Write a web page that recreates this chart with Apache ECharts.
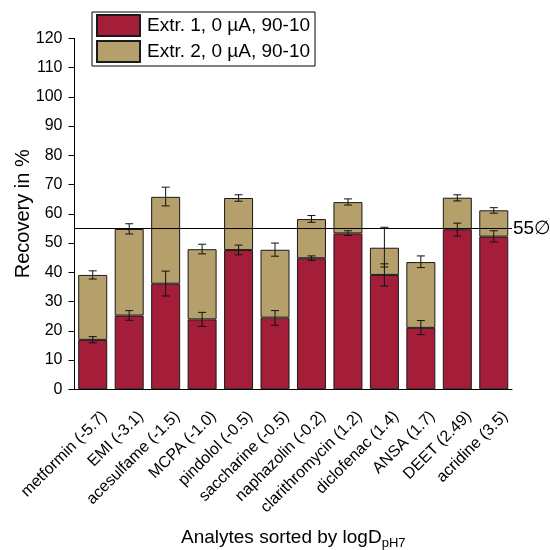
<!DOCTYPE html>
<html>
<head>
<meta charset="utf-8">
<script src="https://cdn.jsdelivr.net/npm/echarts@6.0.0/dist/echarts.min.js"></script>
<style>html,body{margin:0;padding:0;background:#fff;}#c{width:550px;height:550px;}</style>
</head>
<body>
<div id="c"></div>
<script>
var categories = ['metformin (-5.7)', 'EMI (-3.1)', 'acesulfame (-1.5)', 'MCPA (-1.0)', 'pindolol (-0.5)', 'saccharine (-0.5)', 'naphazolin (-0.2)', 'clarithromycin (1.2)', 'diclofenac (1.4)', 'ANSA (1.7)', 'DEET (2.49)', 'acridine (3.5)'];
var ext1 = [16.9, 25.2, 36.1, 23.9, 47.6, 24.5, 44.8, 53.3, 39.1, 21.0, 54.7, 52.2];
var ext2 = [22.2, 29.6, 29.7, 24.0, 17.8, 23.2, 13.4, 10.7, 9.3, 22.5, 10.8, 9.0];
var ext1ErrLow = [15.9, 23.6, 31.9, 21.5, 46.0, 21.9, 44.1, 52.6, 35.3, 18.7, 52.4, 50.4];
var ext1ErrHigh = [18.0, 26.9, 40.4, 26.3, 49.3, 26.9, 45.6, 54.2, 55.4, 23.5, 56.8, 54.2];
var ext2ErrLow = [37.7, 53.1, 62.7, 46.3, 64.3, 45.5, 57.1, 63.0, 41.8, 41.6, 64.4, 60.2];
var ext2ErrHigh = [40.5, 56.6, 69.1, 49.6, 66.5, 50.0, 59.4, 65.1, 42.9, 45.6, 66.5, 62.1];
var yTicks = [0, 10, 20, 30, 40, 50, 60, 70, 80, 90, 100, 110, 120];
var refLine = 55;
var seriesNames = ['Extr. 1, 0 \u00b5A, 90-10', 'Extr. 2, 0 \u00b5A, 90-10'];

var FONT = '"Liberation Sans", Arial, sans-serif';

function errData(lo, hi) {
  return lo.map(function (v, i) { return [i, v, hi[i]]; });
}
function renderErr(params, api) {
  var x = api.value(0);
  var lo = api.coord([x, api.value(1)]);
  var hi = api.coord([x, api.value(2)]);
  var w = 4;
  var st = { stroke: '#111', lineWidth: 1 };
  return {
    type: 'group',
    children: [
      { type: 'line', shape: { x1: lo[0], y1: lo[1], x2: hi[0], y2: hi[1] }, style: st },
      { type: 'line', shape: { x1: lo[0] - w, y1: lo[1], x2: lo[0] + w, y2: lo[1] }, style: st },
      { type: 'line', shape: { x1: hi[0] - w, y1: hi[1], x2: hi[0] + w, y2: hi[1] }, style: st }
    ]
  };
}

var chart = echarts.init(document.getElementById('c'), null, { renderer: 'canvas' });
chart.setOption({
  animation: false,
  backgroundColor: '#fff',
  textStyle: { fontFamily: FONT },
  grid: { left: 74.5, right: 38, top: 38.3, bottom: 160.7, containLabel: false, outerBoundsMode: 'none' },
  legend: {
    orient: 'vertical',
    left: 92,
    top: 12,
    padding: [2, 5, 3, 4],
    itemGap: 3,
    itemWidth: 43,
    itemHeight: 21,
    borderColor: '#000',
    borderWidth: 1,
    icon: 'rect',
    textStyle: { fontSize: 19, color: '#000', fontFamily: FONT, padding: [0, 0, 0, 2] },
    data: seriesNames
  },
  xAxis: {
    type: 'category',
    data: categories,
    name: '{a|Analytes sorted by logD}{s|pH7}',
    nameLocation: 'middle',
    nameGap: 139,
    nameMoveOverlap: false,
    nameTextStyle: {
      rich: {
        a: { fontSize: 19, color: '#000', fontFamily: FONT, verticalAlign: 'top', lineHeight: 22 },
        s: { fontSize: 13, color: '#000', fontFamily: FONT, verticalAlign: 'bottom', lineHeight: 15, padding: [11, 0, 0, 0] }
      }
    },
    axisLine: { lineStyle: { color: '#000', width: 1 } },
    axisTick: { alignWithLabel: true, length: 6, lineStyle: { color: '#000' } },
    axisLabel: {
      interval: 0, rotate: 45, fontSize: 16, color: '#000', margin: 8, fontFamily: FONT,
      verticalAlign: 'top', lineHeight: 16, padding: [12, 3.5, 0, 0], hideOverlap: false
    },
    splitLine: { show: false }
  },
  yAxis: {
    type: 'value',
    min: yTicks[0],
    max: yTicks[yTicks.length - 1],
    interval: 10,
    name: 'Recovery in %',
    nameLocation: 'middle',
    nameGap: 41,
    nameMoveOverlap: false,
    nameTextStyle: { fontSize: 20, color: '#000', fontFamily: FONT },
    axisLine: { show: true, lineStyle: { color: '#000', width: 1 } },
    axisTick: { show: true, length: 6, lineStyle: { color: '#000' } },
    axisLabel: { fontSize: 16, color: '#000', margin: 12, fontFamily: FONT },
    splitLine: { show: false }
  },
  series: [
    {
      name: seriesNames[0],
      type: 'bar',
      stack: 'total',
      barWidth: 29,
      data: ext1,
      itemStyle: { color: '#A41E3A', borderColor: '#1a1a1a', borderWidth: 1 },
      markLine: {
        silent: true,
        symbol: 'none',
        lineStyle: { color: '#000', width: 1, type: 'solid' },
        label: { show: true, position: 'end', formatter: '55\u2205', fontSize: 19, color: '#000', fontFamily: FONT, distance: 1 },
        data: [{ yAxis: refLine }]
      }
    },
    {
      name: seriesNames[1],
      type: 'bar',
      stack: 'total',
      barWidth: 29,
      data: ext2,
      itemStyle: { color: '#B59F6A', borderColor: '#1a1a1a', borderWidth: 1 }
    },
    {
      type: 'custom',
      renderItem: renderErr,
      data: errData(ext1ErrLow, ext1ErrHigh),
      encode: { x: 0, y: [1, 2] },
      z: 10
    },
    {
      type: 'custom',
      renderItem: renderErr,
      data: errData(ext2ErrLow, ext2ErrHigh),
      encode: { x: 0, y: [1, 2] },
      z: 10
    }
  ]
});
</script>
</body>
</html>
